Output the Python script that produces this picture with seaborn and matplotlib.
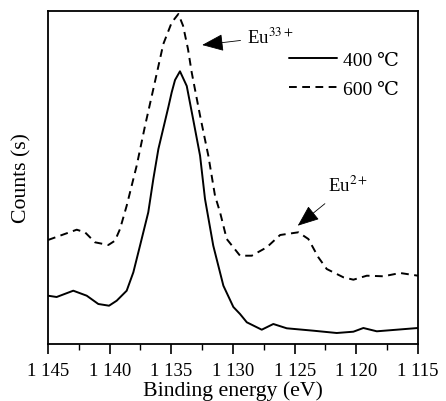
import numpy as np
import pandas as pd
import matplotlib
matplotlib.use("Agg")
import matplotlib.pyplot as plt
import seaborn as sns
from matplotlib.ticker import MultipleLocator, FuncFormatter

# ---- data (arbitrary counts) ----
e_400 = [1145, 1144.3, 1142.95, 1141.86, 1140.92, 1140.05, 1139.43, 1138.62, 1138.08, 1137.54,
         1136.87, 1136.46, 1136.05, 1135.24, 1134.97, 1134.7, 1134.3, 1133.75, 1133.22, 1132.67,
         1132.27, 1131.6, 1130.78, 1129.97, 1129.43, 1128.88, 1127.67, 1126.73, 1125.64, 1123.48,
         1121.59, 1120.24, 1119.43, 1118.34, 1116.72, 1115]
c_400 = [48.3, 47, 53.3, 48.3, 40, 38.3, 43.3, 53.3, 71.7, 98.3,
         131.7, 165, 195, 237, 251.7, 264, 272.7, 258, 224, 188.3,
         145, 98.3, 58.3, 37, 30, 21.7, 14.3, 20, 15.7, 13.3,
         11, 12.3, 16, 12.7, 14.3, 16]

e_600 = [1145, 1144.03, 1142.67, 1142.0, 1141.19, 1140.11, 1139.57, 1139.16, 1138.62, 1137.81,
         1137.13, 1136.46, 1135.65, 1134.97, 1134.43, 1134.05, 1133.65, 1133.35, 1132.67, 1132.0,
         1131.46, 1131.05, 1130.51, 1129.43, 1128.48, 1127.26, 1126.18, 1124.7, 1123.89, 1123.08,
         1122.4, 1121.05, 1120.24, 1119.15, 1117.8, 1116.45, 1115]
c_600 = [104, 108.3, 114.3, 111.7, 101.7, 99, 103.3, 115, 138.3, 178.3,
         218.3, 255, 300, 321.5, 330, 318.3, 295, 271.7, 228.3, 188.3,
         148.3, 131.7, 105, 88.3, 88.3, 96.7, 109, 111.7, 105, 86.7,
         75, 66.7, 64.3, 68.3, 67.7, 71, 68.3]

labels = ["400 \u2103", "600 \u2103"]

df = pd.concat([
    pd.DataFrame({"E": e_400, "C": c_400, "T": labels[0]}),
    pd.DataFrame({"E": e_600, "C": c_600, "T": labels[1]}),
], ignore_index=True)

sns.set_theme(style="white")
plt.rcParams["font.family"] = ["Liberation Serif", "DejaVu Serif"]
plt.rcParams["mathtext.fontset"] = "stix"

fig = plt.figure(figsize=(4.46, 4.02), dpi=100)
ax = fig.add_axes([48 / 446, 1 - 345 / 402, 370 / 446, 333 / 402])

sns.lineplot(data=df, x="E", y="C", hue="T", style="T", sort=False,
             palette={labels[0]: "black", labels[1]: "black"},
             dashes={labels[0]: "", labels[1]: (4.0, 2.8)},
             linewidth=1.4, ax=ax, estimator=None)

ax.set_xlim(1145, 1115)
ax.set_ylim(0, 333)
ax.set_yticks([])
ax.xaxis.set_major_locator(MultipleLocator(5))
ax.xaxis.set_minor_locator(MultipleLocator(2.5))
ax.xaxis.set_major_formatter(FuncFormatter(lambda v, p: f"{int(round(v)):,}".replace(",", " ")))
ax.tick_params(axis="x", which="major", direction="out", length=7, width=1.2,
               labelsize=13.5, bottom=True, top=False, colors="black", pad=6)
ax.tick_params(axis="x", which="minor", direction="out", length=4, width=1.0,
               bottom=True, top=False, colors="black")
for s in ax.spines.values():
    s.set_color("black")
    s.set_linewidth(1.3)
ax.set_xlabel("Binding energy (eV)", fontsize=15.7, labelpad=1, color="black")
ax.set_ylabel("Counts (s)", fontsize=15.7, labelpad=12, color="black")

leg = ax.legend(loc="upper right", bbox_to_anchor=((399 - 48) / 370, (345 - 52) / 333),
                frameon=False, fontsize=14, handlelength=2.5, handletextpad=0.3,
                labelspacing=0.6, borderaxespad=0, borderpad=0)
for h in leg.get_lines():
    h.set_linewidth(1.4)
for t in leg.get_texts():
    t.set_color("black")

ax.annotate("Eu$^{33+}$", xy=(1132.5, 299), xytext=(1128.9, 307),
            fontsize=13.5, color="black", va="center", ha="left",
            arrowprops=dict(arrowstyle="-|>,head_length=1.0,head_width=0.4",
                            color="black", lw=0.6, shrinkA=2, shrinkB=0))
ax.annotate("Eu$^{2+}$", xy=(1124.75, 118.3), xytext=(1122.3, 159),
            fontsize=13.5, color="black", va="center", ha="left",
            arrowprops=dict(arrowstyle="-|>,head_length=1.0,head_width=0.4",
                            color="black", lw=0.6, shrinkA=6, shrinkB=0))

fig.savefig("out.png", dpi=100)
